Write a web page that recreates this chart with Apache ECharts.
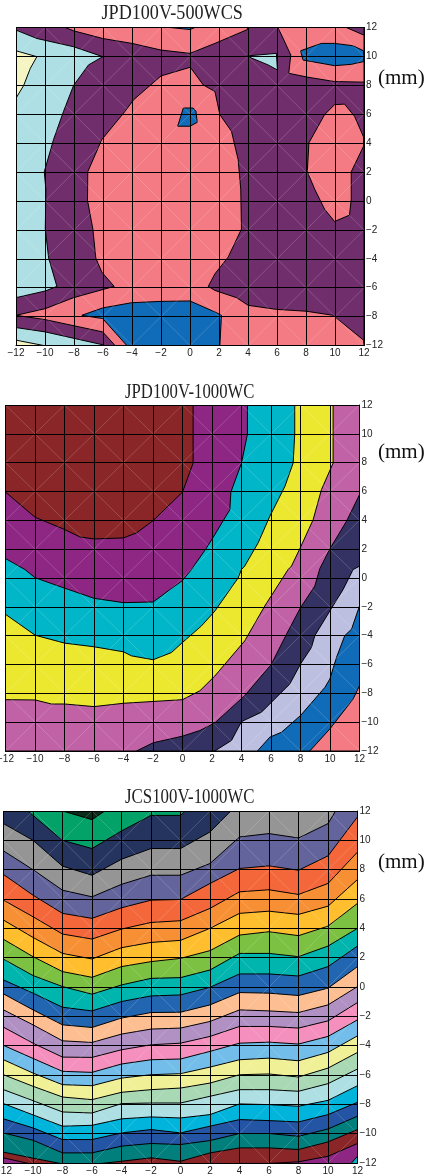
<!DOCTYPE html>
<html><head><meta charset="utf-8">
<style>html,body{margin:0;padding:0;background:#fff}#c{width:430px;height:1176px}</style>
<script src="https://cdn.jsdelivr.net/npm/echarts@6/dist/echarts.min.js"></script>
</head><body><div id="c"></div>
<script>
// tick labels
const xTicks = [-12,-10,-8,-6,-4,-2,0,2,4,6,8,10,12];
const yTicksA = ['12','10','8','6','4','2','0','-2','-4','-6','-8','-12'];
const yTicksB = ['12','10','8','6','4','2','0','-2','-4','-6','-8','-10','-12'];

// ---------- JPD100V-500WCS : contour regions (x mm, y position), painted in order
const a_base = [[-12,-10],[12,-10],[12,12],[-12,12]];
const a_leftBlue = [[-12,11.82],[-10.56,11.24],[-8.03,10.67],[-6.02,9.98],[-7,9.41],[-8.03,7.99],[-8.72,6.2],[-9.41,4.25],[-10.05,2.02],[-9.94,0.81],[-9.98,-1.94],[-9.75,-3.94],[-9.18,-5.91],[-9.98,-6.23],[-12,-6.69]];
const a_leftCream = [[-12,10.39],[-10.56,9.98],[-11.01,9.18],[-11.47,7.99],[-12,7.11]];
const a_cornerBlue = [[-12,-8.76],[-9.98,-9.06],[-6.02,-9.95],[-6,-10],[-12,-10]];
const a_cornerCream = [[-12,-9.63],[-10.1,-10],[-12,-10]];
const a_mainPink = [[-12,-7.91],[-9.98,-7.45],[-8.03,-6.69],[-5.23,-5.91],[-6.08,-4.93],[-6.5,-3.94],[-6.7,-1.94],[-7.07,0.05],[-7.05,2.02],[-6.08,4.25],[-4.48,6.2],[-3.9,6.99],[-2,8.65],[0.02,9.25],[0.91,8.03],[1.72,7.57],[2.06,5.97],[2.86,4.82],[3.32,2.87],[3.5,0.81],[3.55,-1.94],[2.63,-3.89],[1.72,-5.04],[1.26,-5.91],[1.72,-6.19],[3.21,-6.69],[4.01,-7.22],[5.96,-7.5],[8.02,-7.63],[9.86,-7.91],[11.97,-9.63],[12,-10],[-5.17,-10],[-6.02,-9.06],[-9.98,-8.21]];
const a_topPink = [[-8.6,12],[-8.03,11.77],[-6.02,11.24],[-4,10.9],[-2,10.44],[0,10.21],[1.72,10.9],[3.96,11.86],[3.96,12]];
const a_rightTopPink = [[6.07,12],[6.95,10.1],[6.81,8.83],[8.14,8.56],[9.97,8.26],[12,8.22],[12,11.47],[10.78,12]];
const a_rightPink = [[9.97,6.66],[10.66,6.7],[11.35,5.85],[11.97,4.43],[11.97,3.79],[11.12,2.02],[11.12,0.12],[11,-0.98],[9.97,-1.42],[9.28,-0.57],[8.6,0.81],[8.09,2.02],[8.2,4.02],[9.28,5.97]];
const a_bottomBlue = [[-7.46,-7.91],[-6.02,-7.4],[-4.02,-7.04],[-2.07,-6.95],[0,-6.92],[1.72,-7.68],[2.17,-7.91],[2.06,-10],[-4.36,-10],[-6.02,-8.14]];
const a_topBlue = [[-1.38,12],[0,11.86],[0.34,12]];
const a_rightBlue = [[7.63,10.39],[9.05,10.9],[9.97,10.9],[11.23,10.74],[11.97,10.39],[11.97,9.64],[11.12,9.45],[9.97,9.36],[7.79,9.75]];
const a_wedgeBlue = [[3.9,10.03],[5.96,10.21],[6.03,9.06],[5.39,9.41]];
const a_spotBlue = [[-0.46,6.43],[0.22,6.43],[0.41,6.2],[0.5,5.44],[0,5.17],[-0.85,5.17]];
const a_regions = [a_base,a_leftBlue,a_leftCream,a_cornerBlue,a_cornerCream,a_mainPink,a_topPink,a_rightTopPink,a_rightPink,a_bottomBlue,a_topBlue,a_rightBlue,a_wedgeBlue,a_spotBlue];
const a_colors = ['#702E6C','#ADDFE4','#F5F5C4','#ADDFE4','#F5F5C4','#F47A83','#F47A83','#F47A83','#F47A83','#106BB8','#106BB8','#106BB8','#ADDFE4','#106BB8'];

// ---------- JPD100V-1000WC
const b_base = [[-12,-12],[12,-12],[12,12],[-12,12]];
const b_purple = [[0.72,12],[0.72,9.97],[0.72,7.97],[0,5.96],[-1.99,3.98],[-3.12,3.13],[-4,2.78],[-6,2.71],[-6.96,2.85],[-7.98,3.36],[-9.99,4.21],[-12,5.96],[-12,-12],[12,-12],[12,12]];
const b_teal = [[4.4,12],[4.4,9.97],[4,7.97],[3.28,5.96],[3.21,4.74],[2.19,3.01],[1.63,2.09],[0.61,0.59],[0,-0.17],[-1.99,-1.66],[-4,-1.71],[-6,-1.41],[-8.54,-0.51],[-9.99,0.02],[-10.69,0.59],[-12,1.35],[-12,-12],[12,-12],[12,12]];
const b_yellow = [[7.61,12],[7.61,9.97],[7.5,7.97],[6.94,6.35],[5.92,4.28],[5.13,2.44],[4.22,0.83],[4,0.59],[3.77,0],[2.19,-2.3],[1.29,-3.32],[0,-4.47],[-0.75,-5.17],[-1.99,-5.67],[-3.46,-5.4],[-4,-5.12],[-6,-4.77],[-7.98,-4.52],[-9.99,-3.97],[-12,-2.52],[-12,-12],[12,-12],[12,12]];
const b_mauve = [[10.21,12],[10.21,7.97],[9.42,6.13],[8.86,4.05],[7.95,2.02],[7.39,0.83],[7.16,0.59],[5.58,-1.94],[4.22,-4.36],[2.19,-6.8],[1.18,-7.82],[0,-8.44],[-4,-8.69],[-6,-8.92],[-7.98,-8.74],[-8.88,-8.74],[-9.99,-8.46],[-12,-8.44],[-12,-12],[12,-12],[12,12]];
const b_navy = [[12,5.78],[11.12,3.94],[9.99,2.02],[9.31,0.65],[8.97,-0.56],[8,-2.06],[7.05,-3.9],[6.03,-5.97],[4.22,-8.16],[2.19,-10.05],[1.18,-10.58],[0,-10.97],[-1.99,-11.43],[-3.12,-12],[12,-12]];
const b_periwinkle = [[12,0.82],[11.57,0.59],[10.89,-0.79],[9.99,-2.29],[8.97,-4],[8.74,-4.82],[8,-5.97],[7.27,-7.36],[6.48,-8.16],[5.35,-9.31],[4,-9.96],[3.32,-11.27],[2.19,-12],[12,-12]];
const b_blue = [[12,-1.94],[11.46,-3.55],[11,-4],[10.44,-5.51],[9.99,-7.01],[9.65,-7.59],[8,-9.54],[6.71,-10.7],[5.92,-11.04],[5.08,-12],[12,-12]];
const b_salmon = [[12,-7.47],[11.57,-8.39],[9.99,-10.47],[8.63,-12],[12,-12]];
const b_regions = [b_base,b_purple,b_teal,b_yellow,b_mauve,b_navy,b_periwinkle,b_blue,b_salmon];
const b_colors = ['#8A2528','#8D2783','#00B6C8','#ECE82F','#C162A6','#343263','#BDBFE0','#106BB8','#F47A83'];

// ---------- JCS100V-1000WC : contour line y at each x tick
const c_base = [14,14,14,14,14,14,14,14,14,14,14,14,14];
const c_l01 = [14,14,12,11.41,12.77,14,14,14,14,14,14,14,14];
const c_l02 = [13.45,11.7,10,9.44,10.64,11.7,11.7,13.5,14,14,14,14,14];
const c_l03 = [11.14,10,8.24,7.62,8.71,9.44,9.44,10.57,12.6,14,14,14,14];
const c_l04 = [9.28,8,6.6,6.15,7,7.62,7.62,8.42,10.23,10.46,10.16,11.14,14.5];
const c_l05 = [7.67,6.26,5.02,4.68,5.4,5.92,5.97,7.06,8.08,8.26,7.96,8.94,11.6];
const c_l06 = [5.92,4.79,3.61,3.27,3.95,4.4,4.52,5.36,6.49,6.63,6.31,7.06,9.2];
const c_l07 = [4.56,3.38,2.29,1.91,2.68,3.04,3.18,4,5.02,5.17,4.95,5.51,7.33];
const c_l08 = [3.25,2.07,1.05,0.66,1.39,1.73,1.95,2.48,3.54,3.77,3.5,4.15,5.7];
const c_l09 = [1.9,0.78,0.03,-0.49,0.14,0.59,0.64,1.16,2.29,2.29,2.07,2.79,4];
const c_l10 = [0.48,-0.42,-1.38,-1.63,-0.99,-0.61,-0.54,-0.02,0.89,0.89,0.75,1.39,2.79];
const c_l11 = [-0.47,-1.56,-2.58,-2.76,-2.12,-1.74,-1.72,-1.22,-0.38,-0.42,-0.58,-0.08,1.39];
const c_l12 = [-1.56,-2.58,-3.67,-3.78,-3.21,-2.87,-2.8,-2.35,-1.56,-1.63,-1.74,-1.22,0.03];
const c_l13 = [-2.74,-3.83,-4.78,-4.8,-4.28,-3.94,-3.83,-3.37,-2.69,-2.69,-2.8,-2.31,-1.06];
const c_l14 = [-3.98,-4.87,-5.75,-5.82,-5.25,-4.96,-4.91,-4.39,-3.83,-3.76,-3.89,-3.37,-2.24];
const c_l15 = [-4.96,-5.87,-6.66,-6.73,-6.21,-5.98,-5.91,-5.46,-4.96,-4.85,-5.03,-4.46,-3.33];
const c_l16 = [-5.98,-6.77,-7.5,-7.68,-7.18,-7,-6.89,-6.55,-5.98,-5.93,-6.14,-5.53,-4.46];
const c_l17 = [-7,-7.75,-8.52,-8.59,-7.95,-7.91,-7.91,-7.45,-7,-7,-7.11,-6.59,-5.59];
const c_l18 = [-7.95,-8.72,-9.49,-9.43,-8.99,-8.86,-8.93,-8.7,-7.97,-8.02,-8.13,-7.73,-6.73];
const c_l19 = [-8.99,-9.61,-10.4,-10.4,-9.95,-9.72,-9.95,-9.49,-9.04,-9.11,-9.2,-8.7,-7.86];
const c_l20 = [-9.95,-10.45,-11.31,-11.31,-10.85,-10.67,-10.74,-10.47,-9.99,-9.99,-10.18,-9.68,-8.81];
const c_l21 = [-11.26,-11.67,-12.06,-12.1,-11.88,-11.65,-11.88,-11.31,-10.97,-10.97,-11.08,-10.56,-9.72];
const c_l22 = [-11.65,-12.1,-13,-13,-13,-13,-13,-12.6,-12.03,-12.03,-11.92,-11.54,-10.67];
const c_l23 = [-14,-14,-14,-14,-14,-14,-14,-14,-14,-14,-14,-13.8,-11.54];
const c_lines = [c_base,c_l01,c_l02,c_l03,c_l04,c_l05,c_l06,c_l07,c_l08,c_l09,c_l10,c_l11,c_l12,c_l13,c_l14,c_l15,c_l16,c_l17,c_l18,c_l19,c_l20,c_l21,c_l22,c_l23];
const c_colors = ['#0B2E1A','#03A269','#24345E','#959595','#62649B','#F4673A','#F79034','#FFBE2D','#7CC142','#00B5AE','#2266B2','#FDBE92','#B190C4','#F48FBE','#72BDE9','#F0F096','#A9D8B4','#AEDFE2','#00B4DC','#2454A4','#007F7D','#8A2528','#8D2783','#00B4C0'];
const c_regions = c_lines.map(l => xTicks.map((x,i)=>[x,l[i]]).concat([[12,-20],[-12,-20]]));

// ---------- figure furniture
const titles = ['JPD100V-500WCS','JPD100V-1000WC','JCS100V-1000WC'];
const unit = '(mm)';
const grids = [
  {left:16,top:27.5,width:348,height:318},
  {left:5.5,top:405,width:354,height:346},
  {left:3.5,top:811,width:354,height:352}
];
const minus = s => String(s).replace('-','\u2212');

function regionSeries(idx, regions, colors){
  return {
    type:'custom', xAxisIndex:idx, yAxisIndex:idx, clip:true, z:2, silent:true,
    data: regions.map((r,i)=>[i]),
    encode:{x:-1,y:-1},
    renderItem:(p,api)=>{
      const i=p.dataIndex;
      return {type:'polygon',z2:i,
        shape:{points:regions[i].map(pt=>api.coord(pt))},
        style:{fill:colors[i],stroke:'#000',lineWidth:1,lineJoin:'round'}};
    }
  };
}
function diagSeries(idx, yMin, parity){
  const cols=(12-(-12))/2, rows=(12-yMin)/2, cells=[];
  for(let c=0;c<cols;c++)for(let r=0;r<rows;r++)cells.push([c,r]);
  return {
    type:'custom', xAxisIndex:idx, yAxisIndex:idx, clip:true, z:3, silent:true,
    data:cells, encode:{x:-1,y:-1},
    renderItem:(p,api)=>{
      const c=api.value(0), r=api.value(1);
      const x0=-12+2*c,x1=x0+2,y0=12-2*r,y1=y0-2;
      const slash=((c+r)%2)===parity;
      const A=api.coord(slash?[x0,y1]:[x0,y0]),B=api.coord(slash?[x1,y0]:[x1,y1]);
      return {type:'line',shape:{x1:A[0],y1:A[1],x2:B[0],y2:B[1]},
        style:{stroke:'rgba(255,255,255,0.3)',lineWidth:0.6}};
    }
  };
}
const labelStyle={color:'#222',fontFamily:'"Liberation Sans",Arial,sans-serif',fontSize:10};
function xAxis(i){return {gridIndex:i,type:'value',min:-12,max:12,interval:2,z:5,position:'bottom',
  axisLine:{show:true,onZero:false,lineStyle:{color:'#000',width:1}},axisTick:{show:false},
  splitLine:{show:true,lineStyle:{color:'#000',width:1}},
  axisLabel:Object.assign({margin:3,showMinLabel:true,showMaxLabel:true,hideOverlap:false,formatter:v=>minus(v)},labelStyle)};}
function yAxis(i,min,labels){return {gridIndex:i,type:'value',min:min,max:12,interval:2,z:5,position:'right',
  axisLine:{show:true,onZero:false,lineStyle:{color:'#000',width:1}},axisTick:{show:false},
  splitLine:{show:true,lineStyle:{color:'#000',width:1}},
  axisLabel:Object.assign({margin:2,showMinLabel:true,showMaxLabel:true,hideOverlap:false,formatter:v=>minus(labels[(12-v)/2])},labelStyle)};}
function titleText(t,x,y,sx){return {type:'text',x:x,y:y,scaleX:sx,z:10,silent:true,
  style:{text:t,fill:'#222',font:'20px "Liberation Serif",serif',textAlign:'left',textVerticalAlign:'middle'}};}
function unitText(y){return {type:'text',x:378,y:y,z:10,silent:true,
  style:{text:unit,fill:'#111',font:'21px "Liberation Serif",serif',textAlign:'left',textVerticalAlign:'middle'}};}

const chart=echarts.init(document.getElementById('c'),null,{renderer:'canvas',width:430,height:1176});
chart.setOption({
  animation:false,backgroundColor:'#fff',
  grid:grids.map(g=>Object.assign({containLabel:false,outerBoundsMode:'none'},g)),
  xAxis:[xAxis(0),xAxis(1),xAxis(2)],
  yAxis:[yAxis(0,-10,yTicksA),yAxis(1,-12,yTicksB),yAxis(2,-12,yTicksB)],
  series:[
    regionSeries(0,a_regions,a_colors),diagSeries(0,-10,0),
    regionSeries(1,b_regions,b_colors),diagSeries(1,-12,1),
    regionSeries(2,c_regions,c_colors),diagSeries(2,-12,0)
  ],
  graphic:[
    titleText(titles[0],101.5,14,0.906),titleText(titles[1],125,393,0.836),titleText(titles[2],125,798,0.842),
    unitText(78),unitText(452),unitText(862)
  ]
});
</script></body></html>
